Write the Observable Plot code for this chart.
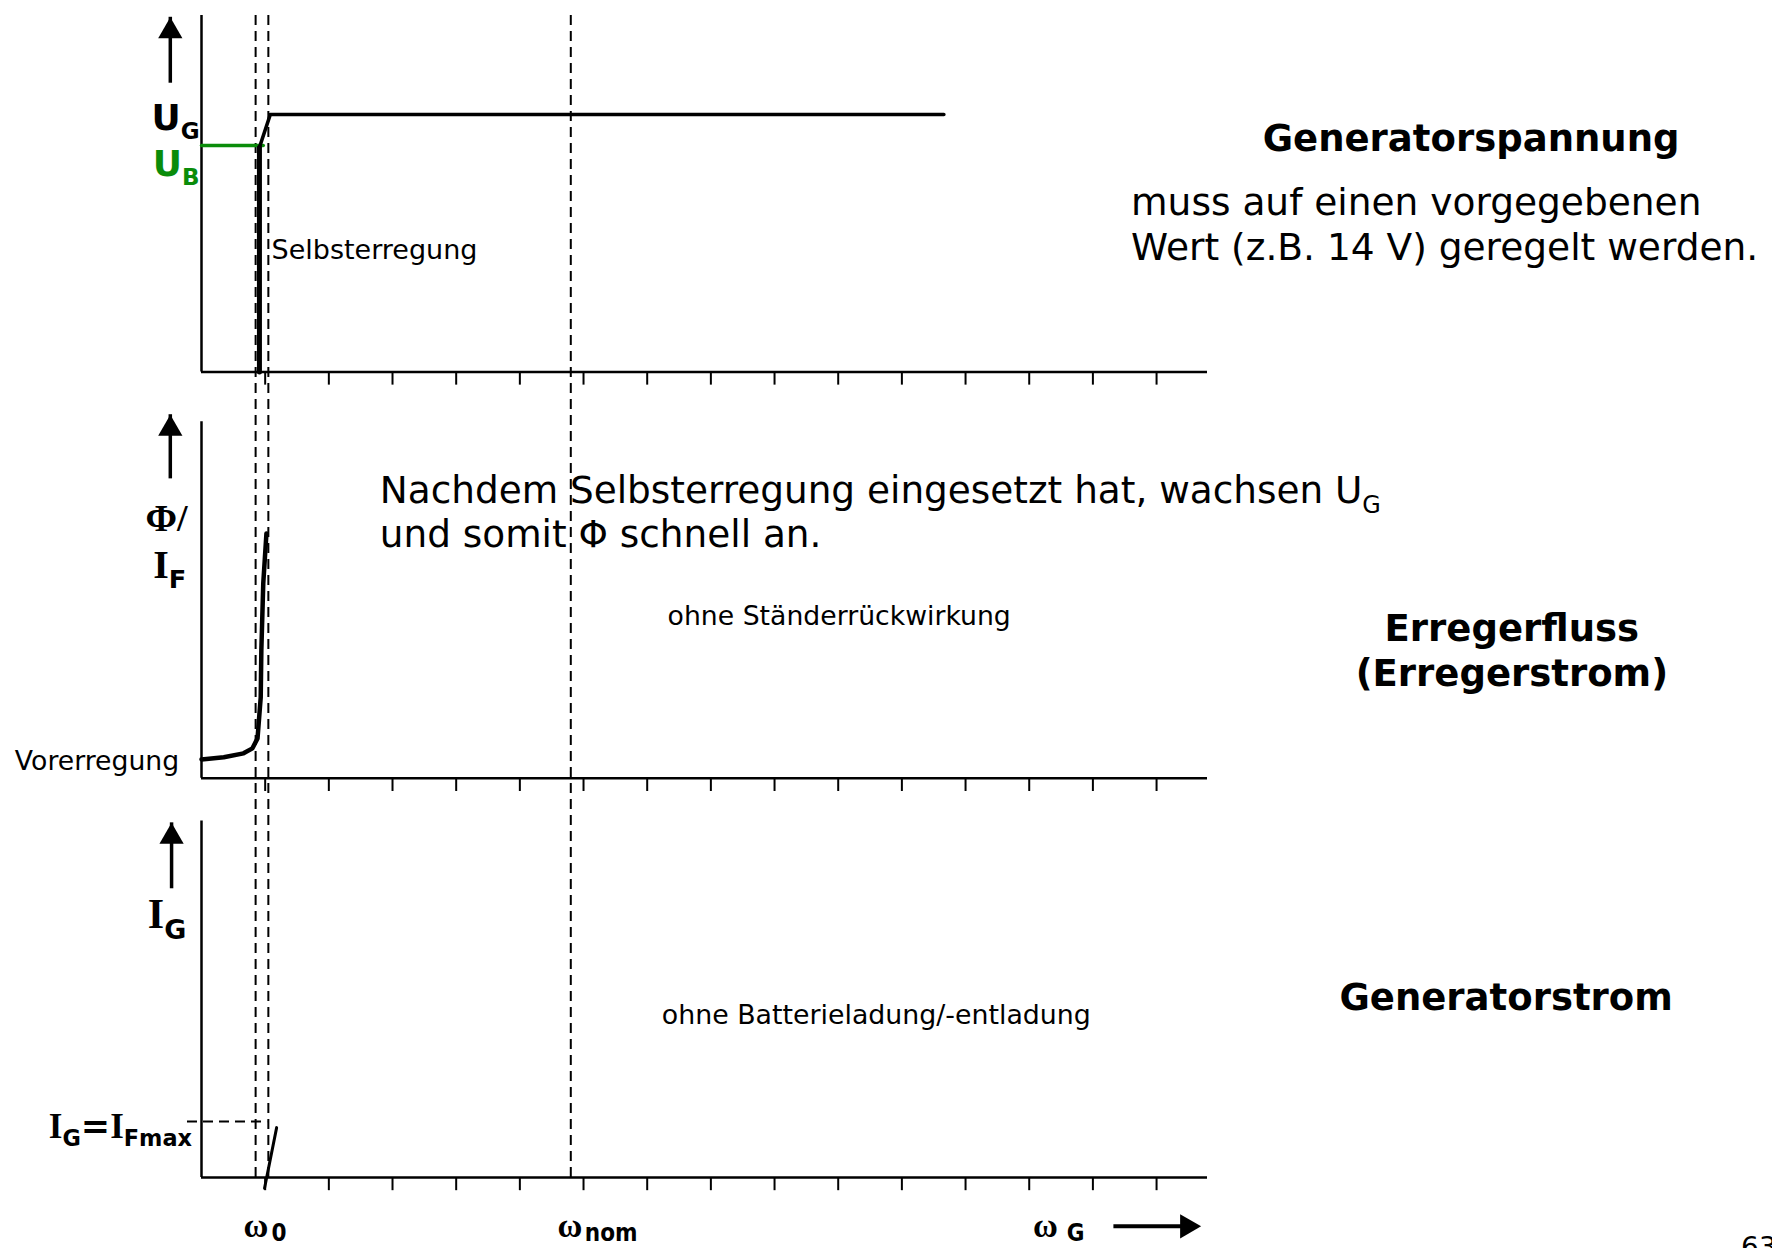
<!DOCTYPE html>
<html>
<head>
<meta charset="utf-8">
<script src="https://cdn.jsdelivr.net/npm/d3@7"></script>
<script src="https://cdn.jsdelivr.net/npm/@observablehq/plot@0.6"></script>
<style>
  html, body { margin: 0; padding: 0; background: #fff; overflow: hidden; width: 1772px; height: 1248px; }
  #chart svg { display: block; max-width: none; }
</style>
</head>
<body>
<div id="chart"></div>
<script>
// ---- speed axis (ω) -------------------------------------------------------
const omegaTicks = [1, 2, 3, 4, 5, 6, 7, 8, 9, 10, 11, 12, 13, 14, 15];
const omegaMax = 15.8;
const omega0Band = [0.85, 1.05];      // dashed limits around ω0
const omegaNom = 5.8;                 // nominal speed
const omegaSubscripts = ["0", "nom", "G"];
const omegaSymbolAt = [0.66, 5.59, 13.06];
const omegaSubscriptAt = [1.10, 6.02, 13.59];

// ---- panels (stacked, each one unit high) ---------------------------------
const panelNames = ["Generatorspannung", "Erregerfluss", "Generatorstrom"];
const panelOffset = [2.26, 1.12, 0];

// ---- generator voltage U_G and battery voltage U_B ------------------------
const ugOmega = [0.91, 0.91, 1.08, 11.66];
const ugLevel = [0, 0.63, 0.722, 0.722];
const ubOmega = [0, 0.97];
const ubLevel = [0.635, 0.635];

// ---- field flux Φ / field current I_F --------------------------------------
const phiOmega = [0, 0.35, 0.66, 0.80, 0.88, 0.93, 0.94, 0.97, 1.02];
const phiLevel = [0.053, 0.059, 0.070, 0.084, 0.112, 0.227, 0.359, 0.547, 0.687];

// ---- generator current I_G -------------------------------------------------
const igOmega = [0.99, 1.18];
const igLevel = [-0.03, 0.14];
const iFmaxLevel = 0.157;
const iFmaxSpan = [-0.22, 1.04];

// ---------------------------------------------------------------------------
const GREEN = "#0a8c0a";
const SANS = "DejaVu Sans";
const SERIF = "Liberation Serif, DejaVu Serif, serif";
const NARROW = "Liberation Sans Narrow, DejaVu Sans Condensed, Arial Narrow, sans-serif";
const TICK = 0.037;          // tick length below each speed axis
const DASH_TOP = 3.271;      // dashed guides run up to the top edge

const [oTop, oMid, oBot] = panelOffset;
const rows = (xs, ys, off) => xs.map((x, i) => ({x, y: ys[i] + off}));

const tickRows = panelOffset.flatMap(o => omegaTicks.map(t => ({t, o})));
const ugRows = rows(ugOmega, ugLevel, oTop);

// vertical axis arrows (shaft start, tip) per panel
const arrows = [
  {x: -0.49, y1: oTop + 0.81, y2: oTop + 0.995},
  {x: -0.49, y1: oMid + 0.84, y2: oMid + 1.02},
  {x: -0.47, y1: oBot + 0.81, y2: oBot + 0.995}
];

const txt = (text, x, y, o = {}) =>
  Plot.text([text], {x, y, text: d => d, lineAnchor: "bottom", fontFamily: SANS, ...o});

const plot = Plot.plot({
  width: 1772,
  height: 1248,
  marginLeft: 201,
  marginRight: 565,
  marginTop: 15,
  marginBottom: 71,
  x: {domain: [0, omegaMax], axis: null},
  y: {domain: [0, 3.26], axis: null},
  style: {fontFamily: SANS, background: "white", overflow: "visible"},
  marks: [
    // dashed speed guides
    Plot.ruleX([...omega0Band, omegaNom], {x: d => d, y1: 0, y2: DASH_TOP, stroke: "black", strokeWidth: 2, strokeDasharray: "10,6"}),
    // I_G = I_Fmax guide
    Plot.ruleY([iFmaxLevel], {y: d => d + oBot, x1: iFmaxSpan[0], x2: iFmaxSpan[1], stroke: "black", strokeWidth: 2, strokeDasharray: "10,6"}),

    // axes
    Plot.ruleY(panelOffset, {y: d => d, x1: 0, x2: omegaMax, stroke: "black", strokeWidth: 2.5}),
    Plot.ruleX(panelOffset, {x: 0, y1: d => d, y2: d => d + 1, stroke: "black", strokeWidth: 2.5}),
    Plot.ruleX(tickRows, {x: "t", y1: "o", y2: d => d.o - TICK, stroke: "black", strokeWidth: 2}),

    // curves
    Plot.line(rows(ubOmega, ubLevel, oTop), {x: "x", y: "y", stroke: GREEN, strokeWidth: 3.5}),
    Plot.line(ugRows.slice(0, 2), {x: "x", y: "y", stroke: "black", strokeWidth: 5}),
    Plot.line(ugRows.slice(1), {x: "x", y: "y", stroke: "black", strokeWidth: 3.5}),
    Plot.line(rows(phiOmega, phiLevel, oMid), {x: "x", y: "y", stroke: "black", strokeWidth: 4.5}),
    Plot.line(rows(igOmega, igLevel, oBot), {x: "x", y: "y", stroke: "black", strokeWidth: 3}),

    // vertical axis arrows
    Plot.ruleX(arrows, {x: "x", y1: "y1", y2: "y2", stroke: "black", strokeWidth: 3.5}),
    Plot.dot(arrows, {x: "x", y: "y2", symbol: "triangle", r: 9, fill: "black", dy: 14}),
    // speed arrow
    Plot.ruleY([-0.137], {y: d => d, x1: 14.33, x2: 15.5, stroke: "black", strokeWidth: 4}),
    Plot.dot([-0.137], {x: 15.70, y: d => d, symbol: "triangle", r: 9, fill: "black", rotate: 90, dx: -14}),

    // speed labels
    Plot.text(omegaSubscripts, {x: (d, i) => omegaSymbolAt[i], y: -0.166, text: () => "ω", textAnchor: "start", lineAnchor: "bottom", fontFamily: SERIF, fontWeight: "bold", fontSize: 34}),
    Plot.text(omegaSubscripts, {x: (d, i) => omegaSubscriptAt[i], y: -0.177, text: d => d, textAnchor: "start", lineAnchor: "bottom", fontFamily: NARROW, fontWeight: "bold", fontSize: 24}),

    // axis titles
    txt("U_{G}", -0.03, oTop + 0.680, {textAnchor: "end", fontWeight: "bold", fontSize: 36}),
    txt("U_{B}", -0.03, oTop + 0.551, {textAnchor: "end", fontWeight: "bold", fontSize: 36, fill: GREEN}),
    txt("~{Φ/}", -0.22, oMid + 0.695, {textAnchor: "end", fontWeight: "bold", fontSize: 38}),
    txt("~{I}_{F}", -0.24, oMid + 0.563, {textAnchor: "end", fontWeight: "bold", fontSize: 40}),
    txt("~{I}_{G}", -0.24, oBot + 0.699, {textAnchor: "end", fontWeight: "bold", fontSize: 42}),
    txt("~{I}_{G}=~{I}_{Fmax}", -0.15, oBot + 0.112, {textAnchor: "end", fontWeight: "bold", fontSize: 35}),
    txt("Vorerregung", -0.35, oMid + 0.022, {textAnchor: "end", fontSize: 26.7}),

    // annotations inside the panels
    txt("Selbsterregung", 1.10, oTop + 0.318, {textAnchor: "start", fontSize: 27}),
    txt("Nachdem Selbsterregung eingesetzt hat, wachsen U_{G}", 2.80, 1.891, {textAnchor: "start", fontSize: 37.4}),
    txt("und somit Φ schnell an.", 2.80, 1.770, {textAnchor: "start", fontSize: 37.4}),
    txt("ohne Ständerrückwirkung", 7.32, 1.551, {textAnchor: "start", fontSize: 26.7}),
    txt("ohne Batterieladung/-entladung", 7.23, 0.432, {textAnchor: "start", fontSize: 26.8}),

    // panel headings on the right
    txt(panelNames[0], 19.94, 2.881, {textAnchor: "middle", fontWeight: "bold", fontSize: 37}),
    txt("muss auf einen vorgegebenen", 14.60, 2.699, {textAnchor: "start", fontSize: 37.5}),
    txt("Wert (z.B. 14 V) geregelt werden.", 14.60, 2.573, {textAnchor: "start", fontSize: 37.5}),
    txt(panelNames[1], 20.58, 1.504, {textAnchor: "middle", fontWeight: "bold", fontSize: 37}),
    txt("(Erregerstrom)", 20.58, 1.380, {textAnchor: "middle", fontWeight: "bold", fontSize: 37}),
    txt(panelNames[2], 20.49, 0.471, {textAnchor: "middle", fontWeight: "bold", fontSize: 37}),

    // page number
    txt("63", 24.18, -0.224, {textAnchor: "start", fontSize: 28})
  ]
});

document.getElementById("chart").append(plot);

// turn "_{...}" into subscripts and "~{...}" into serif runs
function richify(svg) {
  const NS = "http://www.w3.org/2000/svg";
  for (const t of svg.querySelectorAll("text")) {
    const s = t.textContent;
    if (!/[_~]\{/.test(s)) continue;
    const fs = parseFloat(getComputedStyle(t).fontSize);
    while (t.firstChild) t.removeChild(t.firstChild);
    const re = /([_~])\{([^}]*)\}|([^_~]+)/g;
    let m, shift = 0;
    while ((m = re.exec(s))) {
      const span = document.createElementNS(NS, "tspan");
      const kind = m[1];
      const target = kind === "_" ? fs * 0.25 : 0;
      if (kind === "_") span.setAttribute("font-size", (fs * 0.64).toFixed(1));
      if (kind === "~") span.setAttribute("font-family", SERIF);
      if (target !== shift) { span.setAttribute("dy", (target - shift).toFixed(1)); shift = target; }
      span.textContent = kind ? m[2] : m[3];
      t.appendChild(span);
    }
  }
}
richify(plot);
</script>
</body>
</html>
